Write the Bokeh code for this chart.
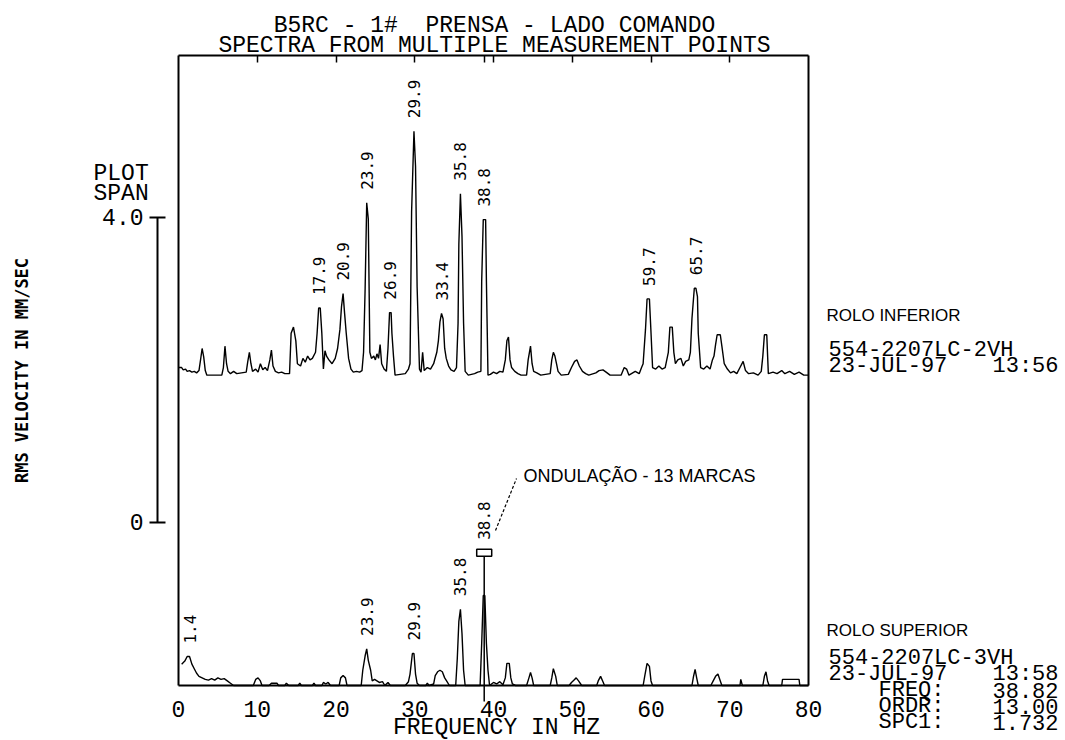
import math
from bokeh.plotting import figure
from bokeh.models import Range1d, LinearAxis, FixedTicker, Label
from bokeh.embed import file_html
from bokeh.resources import INLINE
from bokeh.core.properties import value

# ---------------- data ----------------
UPPER_FREQ = [0.0, 0.4, 0.6, 0.9, 1.1, 1.4, 1.7, 2.0, 2.3, 2.6, 2.8, 3.0, 3.2, 3.4, 3.6, 5.5, 5.7, 5.9, 6.1, 6.3,
              6.6, 7.0, 7.4, 8.0, 8.6, 8.8, 9.0, 9.2, 9.4, 9.8, 10.1, 10.4, 10.7, 11.0, 11.3, 11.6, 11.8, 12.0, 12.3, 12.7,
              13.1, 13.5, 14.1, 14.3, 14.6, 14.9, 15.1, 15.5, 15.8, 16.1, 16.4, 16.7, 17.0, 17.4, 17.6, 17.8, 18.0, 18.2, 18.4, 18.6,
              18.8, 19.1, 19.5, 19.9, 20.2, 20.5, 20.7, 20.9, 21.1, 21.3, 21.6, 21.9, 22.2, 22.6, 23.0, 23.3, 23.5, 23.7, 23.9, 24.1,
              24.3, 24.5, 24.8, 25.0, 25.2, 25.4, 25.6, 25.8, 26.1, 26.4, 26.6, 26.8, 27.0, 27.1, 27.3, 27.5, 28.8, 29.2, 29.4, 29.6,
              29.9, 30.1, 30.3, 30.6, 30.8, 31.0, 31.2, 31.6, 32.0, 32.4, 32.8, 33.0, 33.2, 33.4, 33.6, 33.8, 34.0, 34.3, 34.6, 35.0,
              35.3, 35.5, 35.6, 35.8, 36.0, 36.2, 36.4, 36.8, 37.6, 38.0, 38.4, 38.5, 38.7, 39.0, 39.1, 39.3, 39.6, 40.0, 40.4, 40.8,
              41.2, 41.5, 41.7, 41.9, 42.1, 42.3, 42.7, 43.1, 43.5, 44.2, 44.4, 44.7, 44.9, 45.1, 45.5, 46.0, 47.2, 47.4, 47.6, 47.8,
              48.0, 48.2, 48.6, 49.5, 49.9, 50.3, 50.6, 50.9, 51.3, 51.7, 52.1, 53.0, 53.4, 53.9, 54.3, 54.8, 56.2, 56.6, 56.9, 57.2,
              58.0, 58.5, 58.8, 59.0, 59.3, 59.5, 59.8, 60.0, 60.2, 60.6, 61.0, 61.4, 61.8, 62.2, 62.4, 62.7, 62.9, 63.1, 63.4, 63.8,
              64.1, 64.4, 64.8, 65.0, 65.2, 65.5, 65.7, 65.9, 66.0, 66.3, 66.7, 67.1, 67.5, 67.8, 68.0, 68.2, 68.4, 68.8, 69.0, 69.3,
              69.7, 70.1, 70.5, 70.9, 71.3, 71.7, 72.0, 72.4, 73.0, 73.6, 74.0, 74.2, 74.4, 74.7, 74.9, 75.5, 76.0, 76.6, 77.0, 77.6,
              78.2, 78.8, 79.4, 80.0]
UPPER_AMP = [0.10, 0.10, 0.07, 0.08, 0.05, 0.06, 0.04, 0.05, 0.03, 0.06, 0.20, 0.35, 0.24, 0.06, 0.00, 0.00, 0.10, 0.38, 0.15, 0.05,
             0.02, 0.05, 0.02, 0.03, 0.04, 0.18, 0.30, 0.15, 0.05, 0.08, 0.04, 0.15, 0.07, 0.10, 0.06, 0.20, 0.33, 0.12, 0.05, 0.03,
             0.04, 0.02, 0.02, 0.55, 0.63, 0.45, 0.15, 0.12, 0.22, 0.17, 0.25, 0.20, 0.22, 0.30, 0.55, 0.88, 0.88, 0.55, 0.08, 0.32,
             0.25, 0.20, 0.15, 0.22, 0.35, 0.60, 0.90, 1.07, 0.80, 0.55, 0.22, 0.08, 0.04, 0.05, 0.04, 0.06, 0.30, 1.14, 2.26, 2.05,
             0.30, 0.22, 0.25, 0.20, 0.28, 0.22, 0.40, 0.15, 0.08, 0.05, 0.35, 0.82, 0.82, 0.55, 0.25, 0.00, 0.02, 0.08, 0.15, 2.14,
             3.20, 2.74, 1.16, 0.08, 0.04, 0.30, 0.06, 0.10, 0.08, 0.15, 0.30, 0.45, 0.70, 0.81, 0.74, 0.35, 0.22, 0.12, 0.07, 0.05,
             0.10, 0.68, 1.72, 2.38, 1.82, 0.68, 0.05, 0.00, 0.02, 0.04, 0.05, 1.23, 2.04, 2.04, 1.23, 0.00, 0.01, 0.04, 0.02, 0.05,
             0.04, 0.20, 0.45, 0.50, 0.20, 0.10, 0.05, 0.02, 0.00, 0.00, 0.20, 0.38, 0.15, 0.05, 0.03, 0.00, 0.02, 0.20, 0.30, 0.25,
             0.15, 0.05, 0.00, 0.01, 0.10, 0.18, 0.20, 0.12, 0.05, 0.02, 0.00, 0.03, 0.06, 0.07, 0.04, 0.00, 0.00, 0.10, 0.08, 0.00,
             0.05, 0.02, 0.10, 0.15, 0.60, 1.00, 1.00, 0.56, 0.10, 0.08, 0.12, 0.08, 0.10, 0.30, 0.63, 0.63, 0.30, 0.15, 0.20, 0.22,
             0.12, 0.18, 0.20, 0.30, 0.74, 1.14, 1.14, 1.03, 0.55, 0.10, 0.08, 0.12, 0.08, 0.20, 0.25, 0.40, 0.53, 0.53, 0.38, 0.15,
             0.08, 0.03, 0.05, 0.02, 0.10, 0.18, 0.06, 0.02, 0.03, 0.00, 0.05, 0.25, 0.53, 0.53, 0.02, 0.04, 0.02, 0.06, 0.02, 0.05,
             0.01, 0.04, 0.00, 0.00]

LOWER_FREQ = [0.4, 0.8, 1.1, 1.4, 1.7, 2.0, 2.3, 2.6, 3.0, 3.4, 3.8, 4.2, 4.6, 5.0, 5.4, 5.8, 6.2, 6.6, 7.0, 9.5,
              9.8, 10.1, 10.4, 10.6, 11.5, 11.8, 12.5, 12.7, 13.5, 13.7, 14.0, 15.2, 15.4, 15.6, 17.0, 17.2, 17.4, 18.2, 18.4, 18.7,
              19.0, 19.3, 20.4, 20.6, 20.9, 21.2, 21.4, 23.2, 23.4, 23.7, 23.9, 24.1, 24.4, 24.6, 24.9, 25.2, 25.5, 25.9, 26.2, 26.6,
              26.9, 28.8, 29.2, 29.4, 29.7, 29.9, 30.1, 30.3, 30.6, 31.4, 31.6, 31.8, 32.4, 32.6, 32.9, 33.2, 33.5, 33.8, 34.1, 34.4,
              35.2, 35.4, 35.6, 35.8, 36.0, 36.2, 36.4, 38.3, 38.5, 38.7, 38.9, 39.1, 39.3, 39.5, 40.0, 40.4, 40.8, 41.2, 41.5, 41.7,
              42.0, 42.2, 42.4, 42.8, 44.2, 44.5, 44.7, 44.9, 45.1, 47.2, 47.4, 47.6, 47.9, 48.1, 49.6, 49.9, 50.2, 50.5, 50.8, 51.2,
              53.1, 53.3, 53.6, 53.9, 54.1, 59.0, 59.2, 59.5, 59.8, 60.0, 60.2, 65.2, 65.4, 65.6, 65.8, 66.0, 67.6, 67.9, 68.2, 68.5,
              68.8, 69.0, 71.3, 71.4, 71.6, 74.2, 74.4, 74.6, 74.8, 75.0, 76.6, 76.7, 78.8, 78.9, 80.0]
LOWER_AMP = [0.28, 0.32, 0.38, 0.38, 0.28, 0.22, 0.16, 0.12, 0.10, 0.08, 0.07, 0.09, 0.07, 0.10, 0.08, 0.09, 0.06, 0.03, 0.00, 0.00,
             0.08, 0.10, 0.06, 0.00, 0.00, 0.03, 0.03, 0.00, 0.00, 0.03, 0.00, 0.00, 0.03, 0.00, 0.00, 0.03, 0.00, 0.00, 0.04, 0.02,
             0.04, 0.00, 0.00, 0.10, 0.13, 0.10, 0.00, 0.00, 0.20, 0.39, 0.48, 0.33, 0.20, 0.06, 0.08, 0.06, 0.04, 0.05, 0.00, 0.04,
             0.00, 0.00, 0.05, 0.15, 0.42, 0.42, 0.15, 0.03, 0.00, 0.00, 0.03, 0.00, 0.02, 0.13, 0.18, 0.20, 0.18, 0.10, 0.05, 0.00,
             0.00, 0.35, 0.84, 1.00, 0.68, 0.20, 0.00, 0.00, 0.55, 1.18, 1.18, 0.55, 0.20, 0.00, 0.04, 0.02, 0.05, 0.01, 0.10, 0.29,
             0.29, 0.10, 0.02, 0.00, 0.00, 0.10, 0.17, 0.10, 0.00, 0.00, 0.10, 0.22, 0.12, 0.00, 0.00, 0.04, 0.07, 0.10, 0.06, 0.00,
             0.00, 0.06, 0.12, 0.05, 0.00, 0.00, 0.12, 0.29, 0.25, 0.06, 0.00, 0.00, 0.12, 0.21, 0.10, 0.00, 0.00, 0.06, 0.12, 0.15,
             0.06, 0.00, 0.00, 0.08, 0.00, 0.00, 0.12, 0.18, 0.06, 0.00, 0.00, 0.08, 0.08, 0.00, 0.00]

UPPER_OFFSET = 4.07            # vertical offset of the upper spectrum (mm/s)
UPPER_PEAK_LABELS = [17.9, 20.9, 23.9, 26.9, 29.9, 33.4, 35.8, 38.8, 59.7, 65.7]
LOWER_PEAK_LABELS = [1.4, 23.9, 29.9, 35.8]
CURSOR_FREQ = 38.82
CURSOR_LABEL = 38.8
CURSOR_MARK = 1.74
X_MAX = 80
X_TICKS = [0, 10, 20, 30, 40, 50, 60, 70, 80]
TOP_TICKS = [10, 20, 30, 40, 50, 60, 70]
SPAN_TICKS = [0, 4]
SPAN_TICK_TEXT = {0: "0", 4: "4.0"}
SPAN_BASE = 2.14

TITLE_LINES = ["B5RC - 1#  PRENSA - LADO COMANDO", "SPECTRA FROM MULTIPLE MEASUREMENT POINTS"]
X_LABEL = "FREQUENCY IN HZ"
Y_LABEL = "RMS VELOCITY IN MM/SEC"
UPPER_NAME = "ROLO INFERIOR"
UPPER_ID = "554-2207LC-2VH"
UPPER_DATE, UPPER_TIME = "23-JUL-97", "13:56"
LOWER_NAME = "ROLO SUPERIOR"
LOWER_ID = "554-2207LC-3VH"
LOWER_DATE, LOWER_TIME = "23-JUL-97", "13:58"
CURSOR_INFO = [("FREQ:", "38.82"), ("ORDR:", "13.00"), ("SPC1:", "1.732")]
NOTE = "ONDULAÇÃO - 13 MARCAS"

# ---------------- layout ----------------
W, H = 1065, 740
PX_PER_HZ = 7.875
PX_PER_UNIT = 76.25
X0_PX, Y0_PX = 178, 685        # page pixel of (0 Hz, 0 mm/s)


def px2x(px):
    return (px - X0_PX) / PX_PER_HZ


def px2y(py):
    return (Y0_PX - py) / PX_PER_UNIT


BOX_TOP = px2y(55)

MONO = "Liberation Mono"
NARROW = "DejaVu Sans Mono"
SANS = "Liberation Sans"
BIG = "23px"
STACK = "22px"

p = figure(width=W, height=H, x_range=Range1d(px2x(0), px2x(W)), y_range=Range1d(px2y(H), px2y(0)),
           output_backend="svg", toolbar_location=None, x_axis_location=None, y_axis_location=None,
           min_border_left=0, min_border_right=0, min_border_top=0, min_border_bottom=0)
p.outline_line_color = None
p.grid.visible = False
p.background_fill_color = "white"
p.border_fill_color = "white"

# bottom axis: box bottom line + frequency labels
xa = LinearAxis(fixed_location=0, bounds=(0, X_MAX), ticker=FixedTicker(ticks=X_TICKS),
                axis_line_width=2, major_tick_line_color=None, minor_tick_line_color=None,
                major_tick_out=0, major_tick_in=0, major_label_standoff=15,
                major_label_text_font=MONO, major_label_text_font_size=BIG,
                major_label_text_color="black")
p.add_layout(xa, "below")

# top axis: box top line with inward ticks (no labels)
top = LinearAxis(fixed_location=BOX_TOP, ticker=FixedTicker(ticks=TOP_TICKS + [CURSOR_FREQ]), bounds=(0, X_MAX),
                 major_tick_in=7, major_tick_out=0, minor_tick_line_color=None,
                 axis_line_width=2, major_tick_line_width=1.5,
                 major_label_text_color=None)
p.add_layout(top, "above")

# plot span scale bar
p.extra_y_ranges = {"span": Range1d(px2y(H) - SPAN_BASE, px2y(0) - SPAN_BASE)}
span_ax = LinearAxis(y_range_name="span", fixed_location=px2x(157), bounds=(0, 4),
                     ticker=FixedTicker(ticks=SPAN_TICKS),
                     major_label_overrides=SPAN_TICK_TEXT, major_tick_in=8, major_tick_out=8,
                     minor_tick_line_color=None, axis_line_width=2, major_tick_line_width=2,
                     major_label_standoff=6, major_label_text_font=MONO,
                     major_label_text_font_size=BIG, major_label_text_color="black")
p.add_layout(span_ax, "left")

# box side edges
p.segment(x0=[0, X_MAX], y0=[0, 0], x1=[0, X_MAX], y1=[BOX_TOP, BOX_TOP], line_color="black", line_width=2)

# spectra
upper_y = [UPPER_OFFSET + a for a in UPPER_AMP]
p.line(UPPER_FREQ, upper_y, line_color="black", line_width=1.4)
p.line(LOWER_FREQ, LOWER_AMP, line_color="black", line_width=1.4)


def peak_amp(freqs, amps, f0, tol=0.35):
    return max(a for f, a in zip(freqs, amps) if abs(f - f0) <= tol)


lab_x, lab_y, lab_t = [], [], []
for f in UPPER_PEAK_LABELS:
    lab_x.append(f)
    lab_y.append(UPPER_OFFSET + peak_amp(UPPER_FREQ, UPPER_AMP, f))
    lab_t.append(f"{f:.1f}")
for f in LOWER_PEAK_LABELS:
    lab_x.append(f)
    lab_y.append(peak_amp(LOWER_FREQ, LOWER_AMP, f))
    lab_t.append(f"{f:.1f}")
p.text(x=lab_x, y=lab_y, text=lab_t, angle=math.pi / 2, text_align="left", text_baseline="middle",
       y_offset=-13, text_font=value(NARROW), text_font_size="16px", text_color="black")

# cursor
p.segment(x0=[CURSOR_FREQ], y0=[px2y(701)], x1=[CURSOR_FREQ], y1=[CURSOR_MARK], line_color="black", line_width=1.5)
p.rect(x=[CURSOR_FREQ], y=[CURSOR_MARK], width=15, height=7, width_units="screen", height_units="screen",
       fill_color="white", line_color="black", line_width=1.5)
p.text(x=[CURSOR_FREQ], y=[CURSOR_MARK], text=[f"{CURSOR_LABEL:.1f}"], angle=math.pi / 2, text_align="left",
       text_baseline="middle", y_offset=-13, text_font=value(NARROW), text_font_size="16px", text_color="black")
p.line([px2x(495), px2x(516)], [px2y(530), px2y(478)], line_color="black", line_width=1.2, line_dash="3 2")


def label(text, px, py, font=MONO, size=BIG, align="left", angle=0.0, style="normal"):
    text = text.replace("  ", " \u00a0")
    p.add_layout(Label(x=px2x(px), y=px2y(py), text=text, text_font=font, text_font_size=size,
                       text_align=align, text_baseline="middle", angle=angle, text_color="black",
                       text_font_style=style))


label(TITLE_LINES[0], 494, 25, align="center")
label(TITLE_LINES[1], 494, 45, align="center")
label(X_LABEL, 496, 727, align="center")
label("PLOT", 93, 173)
label("SPAN", 93, 193)
label(Y_LABEL, 21, 370, font=NARROW, size="17px", align="center", angle=math.pi / 2, style="bold")
label(NOTE, 523, 475, font=SANS, size="18px")

label(UPPER_NAME, 826, 315, font=SANS, size="17px")
label(UPPER_ID, 828, 350, size=STACK)
label(UPPER_DATE, 828, 366, size=STACK)
label(UPPER_TIME, 1058, 366, size=STACK, align="right")
label(LOWER_NAME, 826, 630, font=SANS, size="17px")
label(LOWER_ID, 828, 658, size=STACK)
label(LOWER_DATE, 828, 674, size=STACK)
label(LOWER_TIME, 1058, 674, size=STACK, align="right")
for i, (k, v) in enumerate(CURSOR_INFO):
    label(k, 878, 690 + 16 * i, size=STACK)
    label(v, 1058, 690 + 16 * i, size=STACK, align="right")

open("out.html", "w").write(file_html(p, INLINE))
